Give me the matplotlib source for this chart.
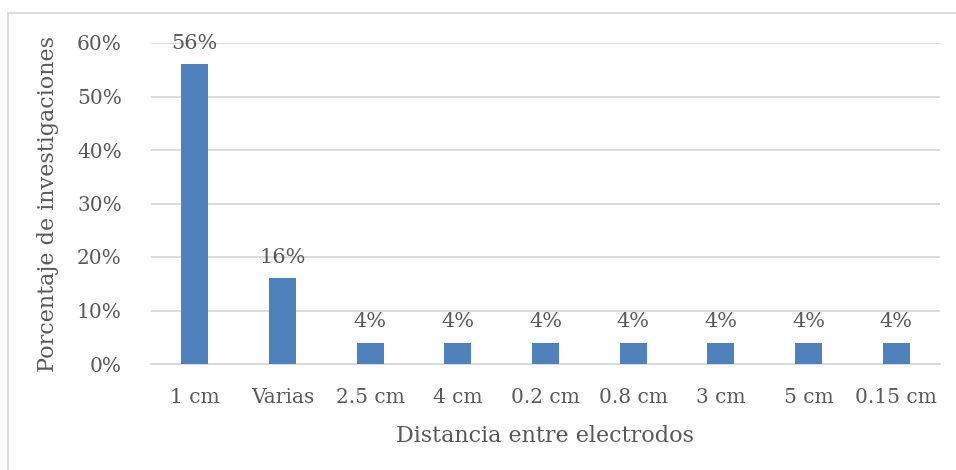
import matplotlib
matplotlib.use("Agg")
import matplotlib.pyplot as plt
from matplotlib.lines import Line2D
from matplotlib.ticker import FuncFormatter

categories = ["1 cm", "Varias", "2.5 cm", "4 cm", "0.2 cm", "0.8 cm", "3 cm", "5 cm", "0.15 cm"]
values = [56, 16, 4, 4, 4, 4, 4, 4, 4]
y_ticks = [0, 10, 20, 30, 40, 50, 60]

text_color = "#595959"
bar_color = "#4f81bd"
grid_color = "#d9d9d9"

plt.rcParams["font.family"] = ["DejaVu Serif"]

fig = plt.figure(figsize=(9.56, 4.70), dpi=100)
W, H = 956, 470
ax = fig.add_axes([151 / W, 1 - 364 / H, (940 - 151) / W, (364 - 43) / H])

x = list(range(len(categories)))
ax.bar(x, values, width=0.31, color=bar_color, zorder=3)
for xi, v in zip(x, values):
    ax.annotate(f"{v}%", (xi, v), xytext=(0, 11), textcoords="offset points",
                ha="center", va="baseline", fontsize=15, color=text_color)

ax.set_xlim(-0.5, len(categories) - 0.5)
ax.set_ylim(0, 60)
ax.set_yticks(y_ticks)
ax.yaxis.set_major_formatter(FuncFormatter(lambda v, p: f"{v:.0f}%"))
ax.set_xticks(x)
ax.set_xticklabels(categories)
ax.tick_params(axis="both", length=0, labelsize=14.5, labelcolor=text_color)
ax.tick_params(axis="x", pad=17)
ax.tick_params(axis="y", pad=21)
ax.grid(axis="y", color=grid_color, linewidth=1.3, zorder=0)
for side in ["top", "right", "left"]:
    ax.spines[side].set_visible(False)
ax.spines["bottom"].set_color(grid_color)
ax.spines["bottom"].set_linewidth(1.3)

ax.set_ylabel("Porcentaje de investigaciones", fontsize=16, color=text_color, labelpad=13)
ax.set_xlabel("Distancia entre electrodos", fontsize=16, color=text_color, labelpad=13)

# outer frame: top and left edges only
fig.add_artist(Line2D([8 / W, 1.0], [1 - 13 / H, 1 - 13 / H], transform=fig.transFigure,
                      color=grid_color, linewidth=1.3))
fig.add_artist(Line2D([8 / W, 8 / W], [0.0, 1 - 13 / H], transform=fig.transFigure,
                      color=grid_color, linewidth=1.3))

fig.savefig("out.png", dpi=100)
